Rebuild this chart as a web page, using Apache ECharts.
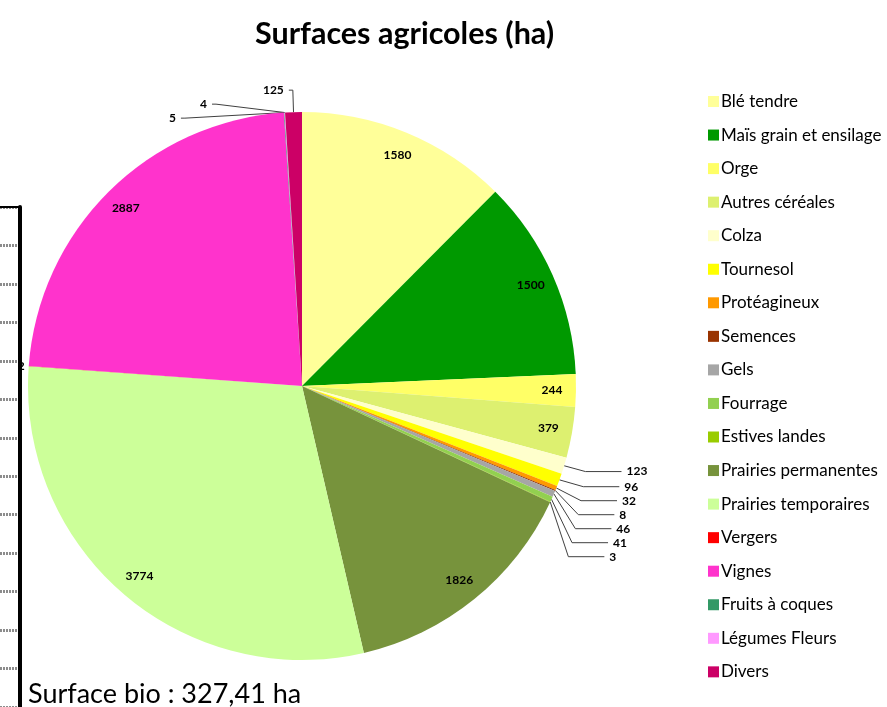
<!DOCTYPE html>
<html>
<head>
<meta charset="utf-8">
<title>Surfaces agricoles</title>
<script src="https://cdn.jsdelivr.net/npm/echarts@6/dist/echarts.min.js"></script>
<style>
  html, body { margin: 0; padding: 0; background: #fff; }
  #chart { width: 887px; height: 707px; }
</style>
</head>
<body>
<div id="chart"></div>
<script>
// catégories et surfaces (ha)
var categories = ['Blé tendre', 'Maïs grain et ensilage', 'Orge', 'Autres céréales', 'Colza',
  'Tournesol', 'Protéagineux', 'Semences', 'Gels', 'Fourrage', 'Estives landes',
  'Prairies permanentes', 'Prairies temporaires', 'Vergers', 'Vignes',
  'Fruits à coques', 'Légumes Fleurs', 'Divers']
var surfaces = [1580, 1500, 244, 379, 123, 96, 32, 8, 46, 41, 3, 1826, 3774, 2, 2887, 5, 4, 125]
var couleurs = ['#ffff99', '#009900', '#ffff66', '#ddf070', '#ffffcc', '#ffff00', '#ff9900',
  '#993300', '#a6a6a6', '#92d050', '#99cc00', '#77933c', '#ccff99', '#ff0000', '#ff33cc',
  '#339966', '#ff99ff', '#cc0066']
// petit morceau du graphique voisin, à gauche
var gridTicks = [0, 13]

var seuil = 200
var font = 'Lato, "Open Sans", sans-serif'

// longueurs des traits de rappel un peu différentes selon l'endroit
var traits = {
  'Vergers': [2, 2],
  'Fruits à coques': [12, 4],
  'Légumes Fleurs': [22, 4],
  'Divers': [22, 4]
}

var myChart = echarts.init(document.getElementById('chart'))

var mainData = categories.map(function (name, i) {
  var petit = surfaces[i] < seuil
  var item = {
    name: name,
    value: surfaces[i],
    itemStyle: { color: couleurs[i] },
    label: { show: petit },
    labelLine: { show: petit && name !== 'Vergers' }
  }
  if (traits[name]) {
    item.labelLine.length = traits[name][0]
    item.labelLine.length2 = traits[name][1]
  }
  return item
})
var innerData = categories.map(function (name, i) {
  return {
    name: name,
    value: surfaces[i],
    label: { show: surfaces[i] >= seuil }
  }
})

myChart.setOption({
  backgroundColor: '#fff',
  animation: false,
  title: [
    {
      text: 'Surfaces agricoles (ha)',
      left: 250,
      top: 14,
      textStyle: { fontFamily: font, fontSize: 30.5, fontWeight: 'bold', color: '#000' }
    },
    {
      text: 'Surface bio : 327,41 ha',
      left: 23,
      top: 676,
      textStyle: { fontFamily: font, fontSize: 27, fontWeight: 'normal', color: '#000' }
    }
  ],
  legend: {
    orient: 'vertical',
    left: 703,
    top: 88,
    icon: 'rect',
    itemWidth: 11,
    itemHeight: 11,
    itemGap: 16.55,
    data: categories,
    textStyle: { fontFamily: font, fontSize: 17, color: '#000', lineHeight: 17, padding: [0, 0, 0, -3] }
  },
  grid: { left: 0, width: 20, top: 207, height: 520 },
  xAxis: {
    type: 'value',
    position: 'top',
    min: 0,
    max: 1,
    axisLine: { show: true, onZero: false, lineStyle: { color: '#000', width: 2 } },
    axisTick: { show: false },
    axisLabel: { show: false },
    splitLine: { show: false }
  },
  yAxis: {
    type: 'value',
    position: 'right',
    min: gridTicks[0],
    max: gridTicks[1],
    interval: 1,
    axisLine: { show: true, onZero: false, lineStyle: { color: '#000', width: 4 } },
    axisTick: { show: false },
    axisLabel: { show: false },
    splitLine: { show: true, lineStyle: { color: '#8c8c8c', width: 3, type: [2, 1] } }
  },
  series: [
    {
      type: 'pie',
      center: [302, 386],
      radius: 274,
      startAngle: 90,
      clockwise: true,
      avoidLabelOverlap: true,
      data: mainData,
      itemStyle: { borderWidth: 0 },
      label: {
        position: 'outside',
        formatter: '{c}',
        fontFamily: font,
        fontSize: 12,
        fontWeight: 'bold',
        color: '#000'
      },
      labelLine: {
        length: 20,
        length2: 36,
        lineStyle: { color: '#404040', width: 1 }
      },
      emphasis: { disabled: true }
    },
    {
      type: 'pie',
      center: [302, 386],
      radius: [220, 274],
      startAngle: 90,
      clockwise: true,
      silent: true,
      data: innerData,
      itemStyle: { color: 'rgba(0,0,0,0)' },
      label: {
        position: 'inside',
        formatter: '{c}',
        fontFamily: font,
        fontSize: 12,
        fontWeight: 'bold',
        color: '#000'
      },
      labelLine: { show: false }
    }
  ]
})
</script>
</body>
</html>
